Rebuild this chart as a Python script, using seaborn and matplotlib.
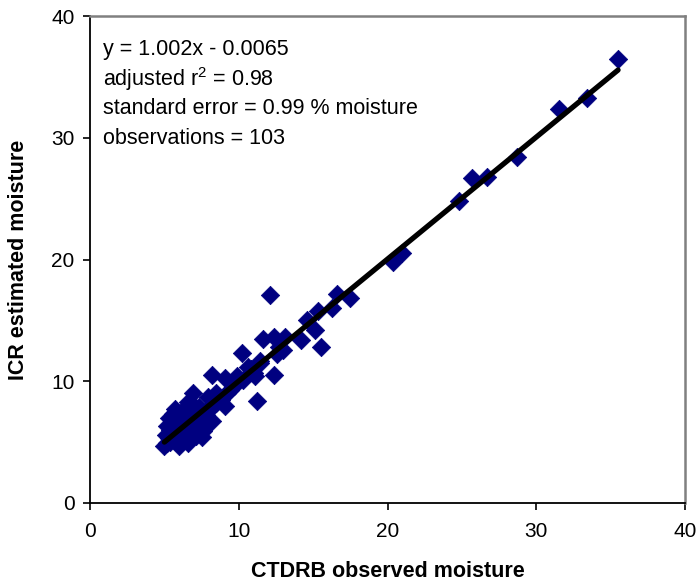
import matplotlib
matplotlib.use("Agg")
import matplotlib.pyplot as plt
import seaborn as sns
import numpy as np
import pandas as pd

# ---- data ----
observed = [
    35.5, 33.4, 31.5, 28.7, 25.7, 26.7, 24.8, 20.4, 21.0, 12.1,
    16.6, 17.5, 16.3, 15.3, 14.6, 15.1, 14.2, 15.5, 11.6, 12.4,
    13.1, 12.7, 12.6, 13.0, 11.4, 11.0, 12.4, 11.2, 10.2, 10.6,
    11.4, 11.1, 8.2, 9.1, 9.9, 8.5, 9.4, 6.9, 9.1, 8.2,
    7.9, 10.8, 9.7, 10.3, 8.8, 8.0, 7.6, 8.5, 8.3, 9.2,
    7.3, 6.6,
    5.0, 5.2, 5.3, 5.1, 5.4, 5.2, 5.5, 5.3, 5.6, 5.7,
    5.8, 6.0, 6.2, 5.9, 6.1, 5.8, 6.3, 6.0, 6.2, 6.4,
    6.5, 6.6, 6.7, 6.5, 6.8, 6.6, 6.9, 6.7, 7.0, 7.1,
    7.2, 7.0, 7.3, 7.2, 7.4, 7.5, 7.6, 7.7, 7.5, 7.8,
    5.6, 5.7, 6.4, 6.9, 7.9, 5.4, 6.1, 6.3, 5.9, 6.8,
    9.6,
]
estimated = [
    36.5, 33.3, 32.4, 28.4, 26.7, 26.8, 24.8, 19.8, 20.5, 17.1,
    17.2, 16.8, 16.0, 15.8, 15.0, 14.2, 13.4, 12.8, 13.5, 13.6,
    13.6, 12.8, 12.2, 12.6, 11.5, 10.7, 10.5, 8.4, 12.3, 11.2,
    11.7, 10.4, 10.5, 10.3, 10.4, 9.0, 9.3, 9.0, 8.0, 6.7,
    8.7, 11.0, 9.6, 10.1, 8.5, 7.8, 7.5, 8.2, 8.0, 9.0,
    7.9, 8.3,
    4.7, 4.9, 5.3, 5.6, 6.0, 6.3, 6.6, 7.0, 7.3, 7.7,
    5.0, 4.7, 5.2, 5.6, 6.0, 6.4, 6.6, 7.0, 7.4, 7.8,
    5.3, 4.9, 5.7, 6.2, 6.5, 6.9, 7.2, 7.6, 8.0, 5.5,
    6.0, 6.3, 6.8, 7.1, 7.5, 5.4, 5.9, 6.3, 6.8, 7.2,
    5.4, 5.8, 5.8, 6.0, 7.6, 5.0, 6.5, 7.1, 7.2, 7.9,
    9.9,
]
slope = 1.002
intercept = -0.0065
stats_lines = [
    "y = 1.002x - 0.0065",
    "adjusted r$^2$ = 0.98",
    "standard error = 0.99 % moisture",
    "observations = 103",
]
ticks = [0, 10, 20, 30, 40]
x_label = "CTDRB observed moisture"
y_label = "ICR estimated moisture"

df = pd.DataFrame({"observed": observed, "estimated": estimated})
x_fit = np.array([min(observed), max(observed)])
fit_df = pd.DataFrame({"x": x_fit, "y": slope * x_fit + intercept})

# ---- style ----
sns.set_theme(style="ticks")
plt.rcParams["font.family"] = ["Liberation Sans", "DejaVu Sans"]
plt.rcParams["mathtext.fontset"] = "custom"
plt.rcParams["mathtext.rm"] = "Liberation Sans"
plt.rcParams["mathtext.it"] = "Liberation Sans"
plt.rcParams["text.color"] = "black"
plt.rcParams["axes.labelcolor"] = "black"

fig = plt.figure(figsize=(6.96, 5.86), dpi=100)
ax = fig.add_axes([90 / 696, 1 - 503 / 586, 595 / 696, 487 / 586])

sns.scatterplot(data=df, x="observed", y="estimated", ax=ax, marker="D",
                s=88, color="#000080", edgecolor="#000080", linewidth=0.5,
                zorder=2)
sns.lineplot(data=fit_df, x="x", y="y", ax=ax, color="black", linewidth=3.8,
             zorder=3, solid_capstyle="round")

ax.set_xlim(0, 40)
ax.set_ylim(0, 40)
ax.set_xticks(ticks)
ax.set_yticks(ticks)
ax.tick_params(axis="both", direction="out", length=5, width=1.2,
               color="black", labelsize=15, labelcolor="black")
ax.tick_params(axis="x", pad=9)
ax.tick_params(axis="y", pad=6)

for side in ["left", "bottom"]:
    ax.spines[side].set_color("black")
    ax.spines[side].set_linewidth(1.3)
for side in ["top", "right"]:
    ax.spines[side].set_visible(True)
    ax.spines[side].set_color("#808080")
    ax.spines[side].set_linewidth(1.8)

ax.set_xlabel(x_label, fontsize=15.5, fontweight="bold", labelpad=14)
ax.set_ylabel(y_label, fontsize=15.5, fontweight="bold", labelpad=16)

line_y = [50, 79, 109, 138]
for txt, py in zip(stats_lines, line_y):
    ax.text(13 / 595, 1 - (py - 16) / 487, txt, transform=ax.transAxes,
            fontsize=15.5, ha="left", va="center", color="black")

ax.grid(False)
fig.savefig("out.png", dpi=100, facecolor="white")
